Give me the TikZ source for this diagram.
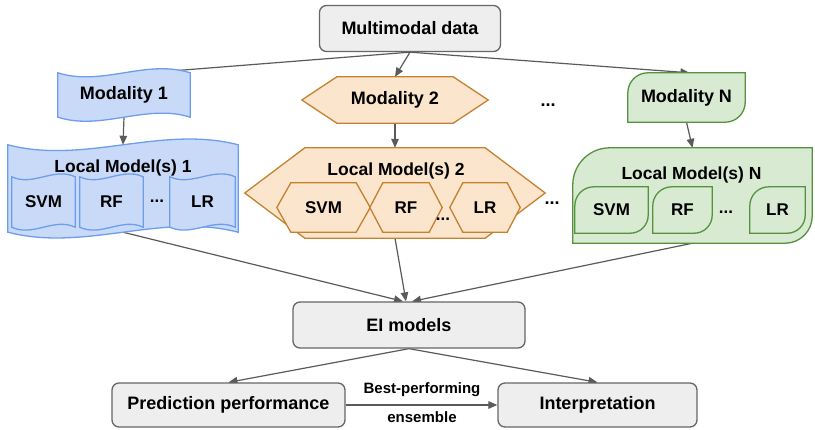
\documentclass[tikz,border=0pt]{standalone}
\usepackage{fontspec}
\setmainfont{Liberation Sans}
\usetikzlibrary{arrows.meta,calc,backgrounds}
\definecolor{grayfill}{HTML}{EEEEEE}
\definecolor{grayline}{HTML}{666666}
\definecolor{arrowc}{HTML}{5A5A5A}
\definecolor{bluefill}{HTML}{C9DAF8}
\definecolor{blueline}{HTML}{6D9EEB}
\definecolor{orfill}{HTML}{FCE5CD}
\definecolor{orline}{HTML}{C4812F}
\definecolor{grfill}{HTML}{D9EAD3}
\definecolor{grline}{HTML}{55923F}
\newcommand\fsbig{\fontsize{18}{21}\selectfont\bfseries}
\newcommand\fstitle{\fontsize{17.5}{20}\selectfont\bfseries}
\newcommand\fsmid{\fontsize{17}{19}\selectfont\bfseries}
\newcommand\fssmall{\fontsize{15}{18}\selectfont\bfseries}
% wavy tape shape: name, control offset, style
\newcommand\tapeshape[3]{%
  \path[#3] let \p1=(#1.north west), \p2=(#1.south east), \n1={(\x2-\x1)/3} in
    (\x1,\y1) .. controls (\x1+\n1,\y1-#2) and (\x1+2*\n1,\y1+#2) .. (\x2,\y1)
    -- (\x2,\y2) .. controls (\x1+2*\n1,\y2+#2) and (\x1+\n1,\y2-#2) .. (\x1,\y2) -- cycle;}
% hexagon: name, tip depth, style
\newcommand\hexshape[3]{%
  \path[#3] let \p1=(#1.north west), \p2=(#1.south east) in
    (\x1,{(\y1+\y2)/2}) -- (\x1+#2,\y1) -- (\x2-#2,\y1) -- (\x2,{(\y1+\y2)/2})
    -- (\x2-#2,\y2) -- (\x1+#2,\y2) -- cycle;}
% leaf: name, top-left radius, bottom-right radius, style
\newcommand\leafshape[4]{%
  \path[#4] let \p1=(#1.north west), \p2=(#1.south east) in
    (\x1,\y2) -- (\x1,\y1-#2) arc[start angle=180,end angle=90,radius=#2]
    -- (\x2,\y1) -- (\x2,\y2+#3) arc[start angle=0,end angle=-90,radius=#3] -- cycle;}
\tikzset{
  wh/.style 2 args={minimum width=#1pt, minimum height=#2pt},
  gbox/.style={draw=grayline, fill=grayfill, line width=1.3pt, rounded corners=7pt, inner sep=0pt, font=\fsbig},
  holder/.style={inner sep=0pt, draw=none},
  conn/.style={draw=arrowc, line width=1.2pt, -{Triangle[length=9pt,width=7.5pt]}},
  blueshape/.style={draw=blueline, fill=bluefill, line width=1.3pt},
  orshape/.style={draw=orline, fill=orfill, line width=1.3pt},
  grshape/.style={draw=grline, fill=grfill, line width=1.3pt},
}
\begin{document}
\begin{tikzpicture}[x=1pt,y=-1pt]
\useasboundingbox (0,0) rectangle (815,429);
% gray boxes
\node[gbox, wh={181}{46}] (mm) at (410,28.5) {Multimodal data};
\node[gbox, wh={232}{46}] (ei) at (409,325) {EI models};
\node[gbox, wh={233}{44}] (pp) at (228.5,405) {Prediction performance};
\node[gbox, wh={199}{44}] (ip) at (597.5,405) {Interpretation};
\node[font=\fssmall] (best) at (422,390) {Best-performing};
\node[font=\fssmall] (ens) at (422,417) {ensemble};
% modalities
\node[holder, font=\fsbig, wh={132}{44}] (m1) at (124,95) {Modality 1};
\node[holder, font=\fsbig, wh={186}{46}] (m2) at (395,100) {Modality 2};
\node[holder, font=\fsbig, wh={117}{49}] (mN) at (686.5,97.5) {Modality N};
\node[font=\fsbig] (dtop) at (548,105) {...};
% local 1
\node[holder, wh={230}{87}] (l1) at (123,188.5) {};
\node[holder, font=\fstitle] (t1) at (123,168) {Local Model(s) 1};
\node[holder, font=\fsmid, wh={63}{50}] (s1) at (43.5,202) {SVM};
\node[holder, font=\fsmid, wh={63}{50}] (r1) at (111.5,202) {RF};
\node[font=\fsmid] (d1) at (157,201) {...};
\node[holder, font=\fsmid, wh={65}{50}] (lr1) at (202.5,202) {LR};
% local 2
\node[holder, wh={300}{90}] (l2) at (395,193) {};
\node[holder, font=\fstitle] (t2) at (396,171) {Local Model(s) 2};
\node[holder, font=\fsmid, wh={93}{49}] (s2) at (323.5,207.5) {SVM};
\node[holder, font=\fsmid, wh={72}{49}] (r2) at (406,207.5) {RF};
\node[font=\fsmid] (d2) at (443,219) {...};
\node[holder, font=\fsmid, wh={70}{49}] (lr2) at (485,207.5) {LR};
\node[font=\fsbig] (dmid) at (552,203) {...};
% local N
\node[holder, wh={239}{95}] (lN) at (692.5,195.5) {};
\node[holder, font=\fstitle] (tN) at (691.5,175) {Local Model(s) N};
\node[holder, font=\fsmid, wh={73}{46}] (sN) at (611.5,210) {SVM};
\node[holder, font=\fsmid, wh={59}{46}] (rN) at (682.5,210) {RF};
\node[font=\fsmid] (dN) at (726,212) {...};
\node[holder, font=\fsmid, wh={55}{46}] (lrN) at (777.5,210) {LR};
\begin{scope}[on background layer]
  % connectors
  \draw[conn] (mm.south) -- ($(m1.north)+(24,0)$);
  \draw[conn] (mm.south) -- (m2.north);
  \draw[conn] (mm.south) -- ($(mN.north)+(3,0)$);
  \draw[conn] (m1.south) -- (l1.north);
  \draw[conn] (m2.south) -- (l2.north);
  \draw[conn] (mN.south) -- (lN.north);
  \draw[conn] (l1.south) -- ($(ei.north)+(-6,0)$);
  \draw[conn] (l2.south) -- ($(ei.north)+(-3,0)$);
  \draw[conn] (lN.south) -- ($(ei.north)+(3,0)$);
  \draw[conn] (ei.south) -- (pp.north);
  \draw[conn] (ei.south) -- (ip.north);
  \draw[conn] (pp.east) -- (ip.west);
  % shapes
  \tapeshape{m1}{14pt}{blueshape}
  \tapeshape{l1}{20pt}{blueshape}
  \tapeshape{s1}{10pt}{blueshape}
  \tapeshape{r1}{10pt}{blueshape}
  \tapeshape{lr1}{10pt}{blueshape}
  \hexshape{m2}{35pt}{orshape}
  \hexshape{l2}{60pt}{orshape}
  \hexshape{s2}{14pt}{orshape}
  \hexshape{r2}{13pt}{orshape}
  \hexshape{lr2}{13pt}{orshape}
  \leafshape{mN}{20pt}{20pt}{grshape}
  \leafshape{lN}{37pt}{27pt}{grshape}
  \leafshape{sN}{19pt}{18pt}{grshape}
  \leafshape{rN}{19pt}{18pt}{grshape}
  \leafshape{lrN}{19pt}{18pt}{grshape}
\end{scope}
\end{tikzpicture}
\end{document}
